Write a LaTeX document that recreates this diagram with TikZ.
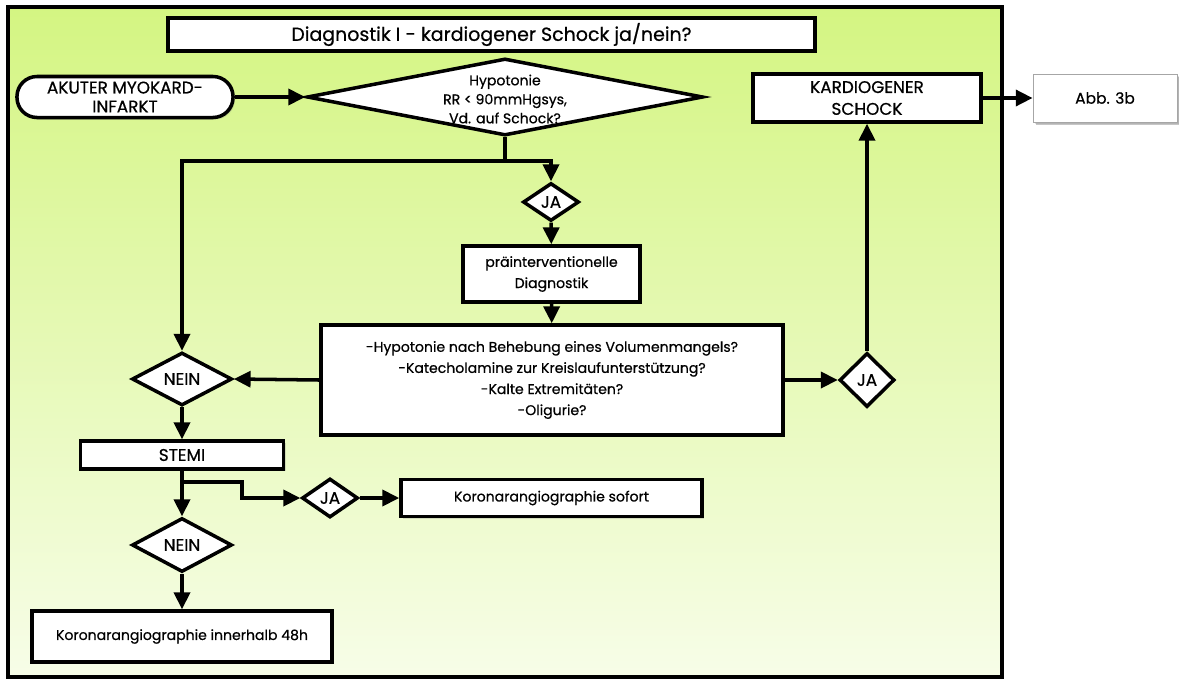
\documentclass[tikz,border=0pt]{standalone}
\usepackage{fontspec}
\setmainfont{Poppins}[UprightFeatures={FakeBold=0.6}]
\usepackage{tikz}
\usetikzlibrary{shapes.geometric,arrows.meta,positioning,calc,shadows}

\definecolor{frametop}{RGB}{212,245,130}
\definecolor{framebot}{RGB}{247,253,232}

\begin{document}
\begin{tikzpicture}[x=0.025cm, y=-0.025cm, line width=2.5pt,
    >={Triangle[length=0.42cm, width=0.4cm]},
    box/.style={draw, rectangle, fill=white, inner sep=0pt, align=center,
        font=\fontsize{10}{15}\selectfont,
        drop shadow={opacity=0.25, shadow xshift=0.05cm, shadow yshift=-0.05cm}},
    capsbox/.style={box, font=\fontsize{12}{15.5}\selectfont},
    pill/.style={box, rounded corners=0.5cm, font=\fontsize{12}{13.5}\selectfont},
    decision/.style={draw, diamond, fill=white, inner sep=0pt,
        font=\fontsize{12}{12}\selectfont}]
    \useasboundingbox (0,0) rectangle (1179,679);

    % Frame
    \path[draw, top color=frametop, bottom color=framebot,
        drop shadow={opacity=0.3, shadow xshift=0.06cm, shadow yshift=-0.06cm}]
        (8,7) rectangle (1002,677);
    \node[box, minimum width=16.175cm, minimum height=0.825cm,
        font=\fontsize{13.5}{15}\selectfont] (title) at (491.5,34.5)
        {Diagnostik I - kardiogener Schock ja/nein?};

    % Entry
    \node[pill, minimum width=5.4cm, minimum height=1.025cm] (akut) at (125,97)
        {AKUTER MYOKARD-\\INFARKT};
    \node[decision, minimum width=9.9cm, minimum height=1.925cm] (hypo) at (505,97) {};
    \node[align=center, font=\fontsize{10}{13.5}\selectfont] (hypolbl) at (505,99)
        {Hypotonie\\RR < 90mmHgsys,\\Vd. auf Schock?};
    \coordinate (hsplit) at (505,161);

    % JA path
    \node[decision, minimum width=1.4cm, minimum height=0.95cm] (ja1) at (551,202) {JA};
    \node[box, minimum width=4.425cm, minimum height=1.4cm] (prae) at (551.5,274)
        {präinterventionelle\\Diagnostik};
    \node[box, minimum width=11.55cm, minimum height=2.75cm] (quest) at (552,380)
        {-Hypotonie nach Behebung eines Volumenmangels?\\
         -Katecholamine zur Kreislaufunterstützung?\\
         -Kalte Extremitäten?\\
         -Oligurie?};
    \node[decision, minimum width=1.375cm, minimum height=1.35cm] (ja2) at (867,380) {JA};
    \node[capsbox, minimum width=5.7cm, minimum height=1.2cm] (kard) at (867,98)
        {KARDIOGENER\\SCHOCK};
    \node[box, minimum width=3.6cm, minimum height=1.2cm, line width=0.6pt, draw=gray!70,
        font=\fontsize{11}{13}\selectfont,
        drop shadow={opacity=0.45, shadow xshift=0.07cm, shadow yshift=-0.07cm}]
        (abb) at (1105,98) {Abb. 3b};

    % NEIN path
    \node[decision, minimum width=2.5cm, minimum height=1.325cm] (nein1) at (182,379) {NEIN};
    \node[capsbox, minimum width=5.075cm, minimum height=0.7cm] (stemi) at (182,455) {STEMI};
    \coordinate (ssplit) at (182,482);
    \coordinate (sbend) at (242,482);
    \node[decision, minimum width=1.4cm, minimum height=0.975cm] (ja3) at (330,498) {JA};
    \node[box, minimum width=7.525cm, minimum height=0.925cm] (sofort) at (551.5,498)
        {Koronarangiographie sofort};
    \node[decision, minimum width=2.5cm, minimum height=1.35cm] (nein2) at (182,545) {NEIN};
    \node[box, minimum width=7.5cm, minimum height=1.275cm] (k48) at (182,636.5)
        {Koronarangiographie innerhalb 48h};

    % Connections
    \draw[->] (akut) -- (hypo.west);
    \draw (hypo.south) -- (hsplit);
    \draw[->] (hsplit) -| (ja1.north);
    \draw[->] (hsplit) -| (nein1.north);
    \draw[->] (ja1) -- (prae);
    \draw[->] (prae) -- (quest);
    \draw[->] (quest.west) -- (nein1.east);
    \draw[->] (quest.east) -- (ja2.west);
    \draw[->] (ja2) -- (kard);
    \draw[->] (kard) -- (abb);
    \draw[->] (nein1) -- (stemi);
    \draw[->] (stemi) -- (nein2);
    \draw[->] (ssplit) -- (sbend) |- (ja3.west);
    \draw[->] (ja3) -- (sofort);
    \draw[->] (nein2) -- (k48);
\end{tikzpicture}
\end{document}
